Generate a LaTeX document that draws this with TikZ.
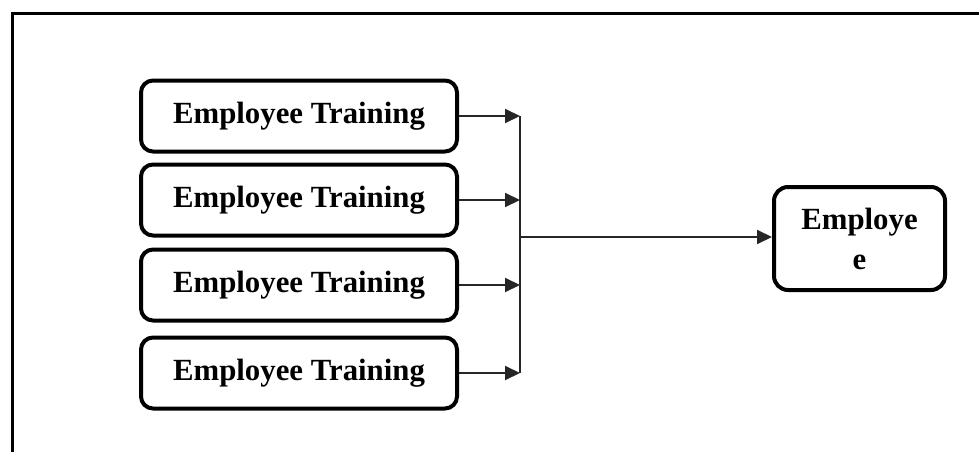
\documentclass[tikz,border=0pt]{standalone}
\usepackage{fontspec}
\setmainfont{Liberation Serif}
\usetikzlibrary{arrows.meta}
\begin{document}
\begin{tikzpicture}[x=1pt,y=-1pt,
  trainbox/.style={draw, line width=4pt, rounded corners=12pt,
    minimum width=316pt, minimum height=71pt, inner sep=0pt,
    font=\fontsize{30.8}{38}\selectfont\bfseries},
  resultbox/.style={draw, line width=4pt, rounded corners=14pt,
    minimum width=171pt, minimum height=103pt, inner sep=0pt, align=center,
    font=\fontsize{30.8}{40}\selectfont\bfseries},
  link/.style={line width=2pt, draw=black!85},
  tip/.style={-{Triangle[length=15pt,width=14pt]}}]
  \useasboundingbox (0,0) rectangle (979,452);
  % outer frame, open towards the right and bottom edges
  \draw[line width=3pt] (12,460) -- (12,14) -- (990,14);

  \node[trainbox] (t1) at (299,116) {Employee Training};
  \node[trainbox] (t2) at (299,200) {Employee Training};
  \node[trainbox] (t3) at (299,285) {Employee Training};
  \node[trainbox] (t4) at (299,373) {Employee Training};

  \node[resultbox] (emp) at (859.5,238.5) {Employe\\e};

  \coordinate (b1) at (520,116);
  \coordinate (b2) at (520,200);
  \coordinate (b3) at (520,285);
  \coordinate (b4) at (520,373);
  \coordinate (bm) at (520,237);

  \draw[link,tip] (t1.east) -- (b1);
  \draw[link,tip] (t2.east) -- (b2);
  \draw[link,tip] (t3.east) -- (b3);
  \draw[link,tip] (t4.east) -- (b4);
  \draw[link] (b1) -- (b4);
  \draw[link,tip] (bm) -- (emp.west |- bm);
\end{tikzpicture}
\end{document}
